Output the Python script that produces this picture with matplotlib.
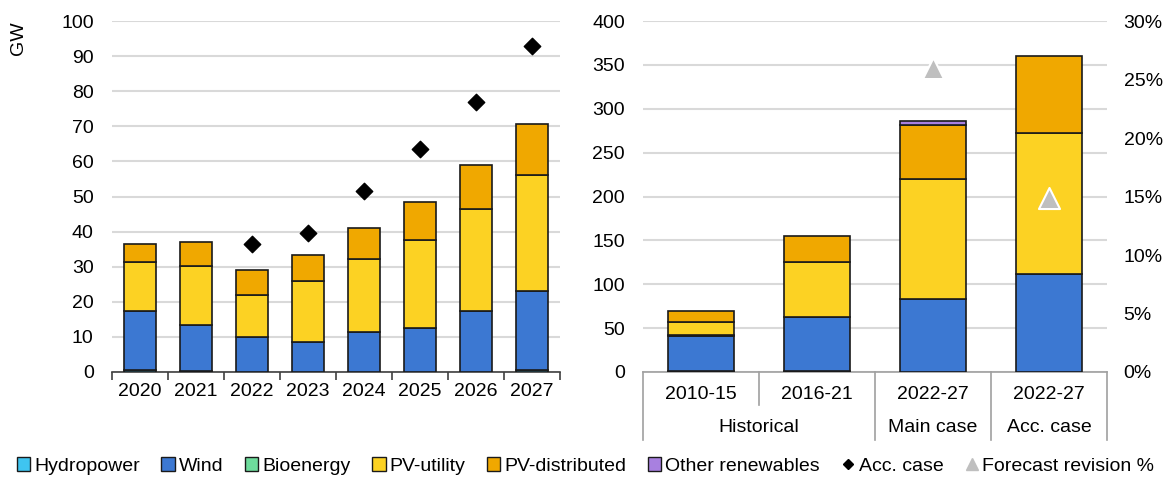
import matplotlib
matplotlib.use("Agg")
import matplotlib.pyplot as plt
import matplotlib.transforms as mtransforms
from matplotlib.patches import Patch
from matplotlib.lines import Line2D
import numpy as np

plt.rcParams['font.family'] = ['Liberation Sans', 'DejaVu Sans']

# ---- Left chart data (GW) ----
years = ["2020", "2021", "2022", "2023", "2024", "2025", "2026", "2027"]
l_hydro = [0.5, 0.3, 0.1, 0.1, 0.1, 0.1, 0.1, 0.5]
l_wind = [16.8, 13.2, 9.9, 8.4, 11.2, 12.4, 17.2, 22.5]
l_bio = [0.0, 0.0, 0.0, 0.0, 0.0, 0.0, 0.0, 0.0]
l_pvu = [14.0, 16.8, 12.0, 17.3, 21.0, 25.2, 29.0, 33.0]
l_pvd = [5.3, 6.7, 7.0, 7.4, 8.7, 10.8, 12.7, 14.7]
l_other = [0.0, 0.0, 0.0, 0.0, 0.0, 0.0, 0.0, 0.0]
l_acc = [None, None, 36.5, 39.5, 51.5, 63.5, 77.0, 92.8]

# ---- Right chart data (GW, %) ----
periods = ["2010-15", "2016-21", "2022-27", "2022-27"]
groups = ["Historical", "Main case", "Acc. case"]
r_hydro = [1.0, 1.0, 0.5, 0.5]
r_wind = [39.5, 61.5, 82.5, 111.0]
r_bio = [2.0, 0.5, 0.0, 0.0]
r_pvu = [14.5, 62.0, 137.0, 161.0]
r_pvd = [12.0, 30.0, 61.5, 87.5]
r_other = [0.0, 0.0, 4.0, 0.0]
r_revision = [None, None, 26.0, 14.9]

series_names = ["Hydropower", "Wind", "Bioenergy", "PV-utility", "PV-distributed", "Other renewables"]
colors = ["#3fc5f0", "#3c78d2", "#6edc9c", "#fcd223", "#f0a800", "#a880e0"]
edge = "#1a1a1a"

fig = plt.figure(figsize=(11.71, 4.79), dpi=100)
axL = fig.add_axes([111.7 / 1171, 1 - 372 / 479, (560 - 111.7) / 1171, (372 - 21) / 479])
axR = fig.add_axes([643 / 1171, 1 - 372 / 479, (1107 - 643) / 1171, (372 - 21) / 479])

grid_c = "#d9d9d9"
fs = 14


def stack(ax, x, data_list, width):
    bottom = np.zeros(len(x))
    for vals, col in zip(data_list, colors):
        v = np.array(vals, dtype=float)
        mask = v > 0
        ax.bar(x[mask], v[mask], width, bottom=bottom[mask], color=col,
               edgecolor=edge, linewidth=1.2, zorder=3)
        bottom += v


# Left
xl = np.arange(len(years))
stack(axL, xl, [l_hydro, l_wind, l_bio, l_pvu, l_pvd, l_other], 0.57)
acc_x = [i for i, v in enumerate(l_acc) if v is not None]
acc_y = [v for v in l_acc if v is not None]
axL.scatter(acc_x, acc_y, marker="D", s=70, color="black", zorder=5)
axL.set_xlim(-0.5, len(years) - 0.5)
axL.set_ylim(0, 100)
axL.set_yticks(np.arange(0, 101, 10))
axL.yaxis.grid(True, color=grid_c, linewidth=1.5, zorder=0)
axL.set_axisbelow(True)
for s in ["top", "right", "left"]:
    axL.spines[s].set_visible(False)
axL.spines["bottom"].set_color("#404040")
axL.spines["bottom"].set_linewidth(1.2)
axL.set_xticks(xl)
axL.set_xticklabels(years, fontsize=fs)
axL.tick_params(axis="x", length=0, pad=8)
axL.set_xticks(np.arange(-0.5, len(years), 1), minor=True)
axL.tick_params(axis="x", which="minor", length=6, width=1.2, color="#404040")
axL.tick_params(axis="y", length=0, labelsize=fs, pad=13)
fig.text(18 / 1171, 1 - 38 / 479, "GW", rotation=90, fontsize=fs, ha="center", va="center")

# Right
xr = np.arange(len(periods))
stack(axR, xr, [r_hydro, r_wind, r_bio, r_pvu, r_pvd, r_other], 0.57)
axR.set_xlim(-0.5, len(periods) - 0.5)
axR.set_ylim(0, 400)
axR.set_yticks(np.arange(0, 401, 50))
axR.yaxis.grid(True, color=grid_c, linewidth=1.5, zorder=0)
axR.set_axisbelow(True)
for s in ["top", "right", "left"]:
    axR.spines[s].set_visible(False)
axR.spines["bottom"].set_color("#a0a0a0")
axR.spines["bottom"].set_linewidth(1.2)
axR.set_xticks(xr)
axR.set_xticklabels(periods, fontsize=fs)
axR.tick_params(axis="x", length=0, pad=10)
axR.tick_params(axis="y", length=0, labelsize=fs, pad=13)

axR2 = axR.twinx()
axR2.set_ylim(0, 30)
axR2.set_yticks(np.arange(0, 31, 5))
axR2.set_yticklabels([f"{v}%" for v in range(0, 31, 5)], fontsize=fs)
axR2.tick_params(axis="y", length=0, pad=12)
for s in ["top", "right", "left", "bottom"]:
    axR2.spines[s].set_visible(False)
rev_x = [i for i, v in enumerate(r_revision) if v is not None]
rev_y = [v for v in r_revision if v is not None]
axR2.scatter(rev_x, rev_y, marker="^", s=230, color="#bfbfbf", edgecolor="white",
             linewidth=1.5, zorder=6)

# grouping lines under right axis
trans = mtransforms.blended_transform_factory(axR.transData, axR.transAxes)
dy_short = (405 - 372) / (372 - 21)
dy_long = (440 - 372) / (372 - 21)
line_kw = dict(color="#a0a0a0", linewidth=1.2, transform=trans, clip_on=False)
for xb in [-0.5, 1.5, 2.5, 3.5]:
    axR.plot([xb, xb], [0, -dy_long], **line_kw)
axR.plot([0.5, 0.5], [0, -dy_short], **line_kw)
grp_centers = [0.5, 2.0, 3.0]
for gx, g in zip(grp_centers, groups):
    axR.text(gx, -(427 - 372) / (372 - 21), g, transform=trans, ha="center", va="center",
             fontsize=fs)

# Legend
handles = [Patch(facecolor=c, edgecolor=edge, linewidth=1.0, label=n)
           for c, n in zip(colors, series_names)]
handles.append(Line2D([], [], marker="D", linestyle="none", color="black", markersize=5,
                      label="Acc. case"))
handles.append(Line2D([], [], marker="^", linestyle="none", color="#bfbfbf", markersize=8,
                      label="Forecast revision %"))
fig.legend(handles=handles, loc="center", bbox_to_anchor=(0.5, 1 - 466 / 479), ncol=8,
           frameon=False, fontsize=fs, handlelength=0.7, handleheight=0.7,
           handletextpad=0.2, columnspacing=1.1, borderaxespad=0)

fig.savefig("out.png", dpi=100)
